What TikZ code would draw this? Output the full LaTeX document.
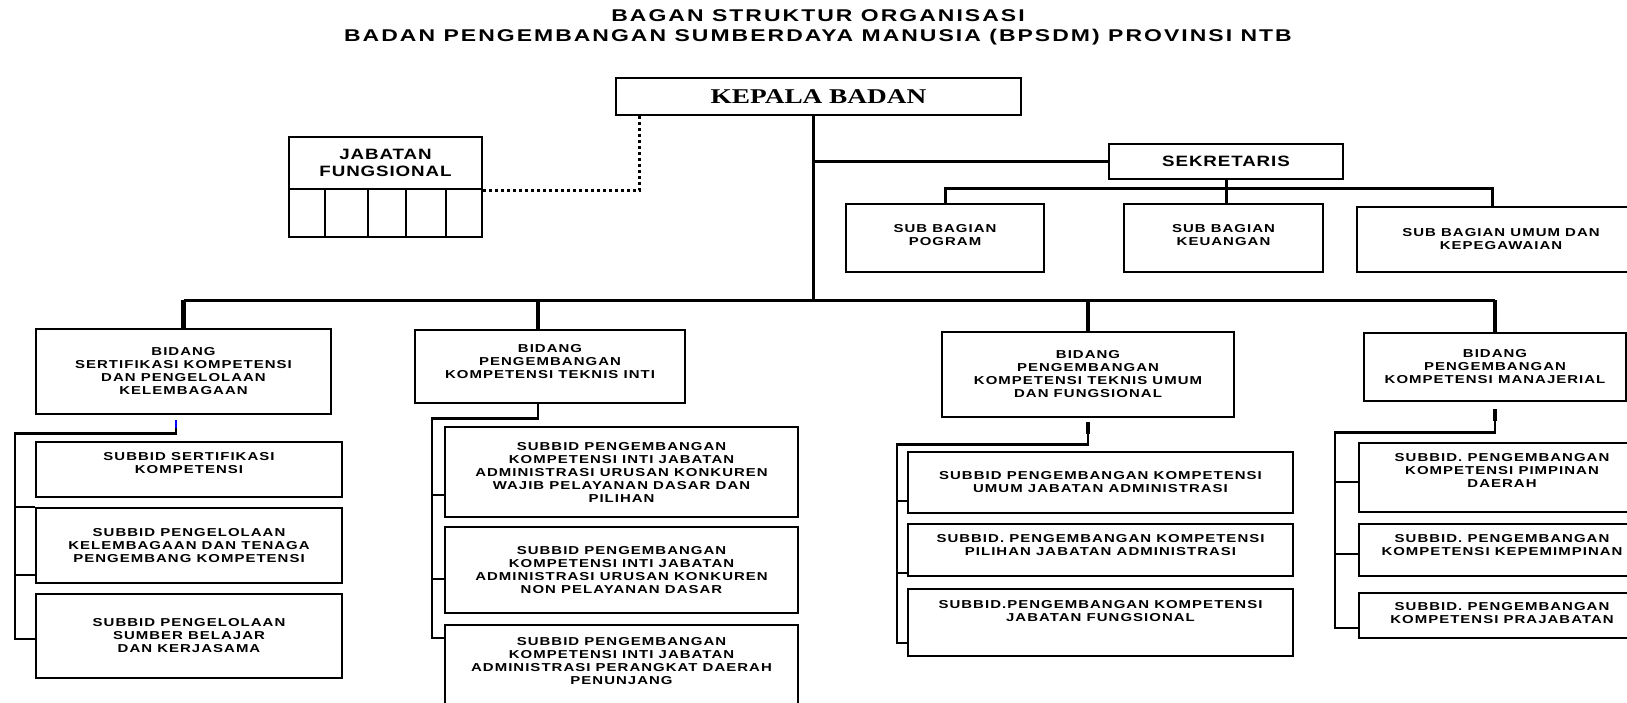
\documentclass[tikz,border=0pt]{standalone}
\usepackage{fontspec}
\newfontfamily\titlefont[FakeStretch=1.35,LetterSpace=12]{Liberation Sans}
\newfontfamily\boxfont[FakeStretch=1.3,LetterSpace=9]{Liberation Sans}
\newfontfamily\midfont[FakeStretch=1.25,LetterSpace=6]{Liberation Sans}
\newfontfamily\headfont[FakeStretch=1.3]{Liberation Serif}
\begin{document}
\begin{tikzpicture}[x=1pt,y=-1pt,
  box/.style={draw,line width=2.5pt,inner sep=0pt,align=center,
    font=\boxfont\bfseries\fontsize{11.5}{13}\selectfont},
  sz/.style 2 args={minimum width=#1pt,minimum height=#2pt},
  lift/.style={text depth=#1pt},
  heading/.style={font=\titlefont\bfseries\fontsize{17}{20}\selectfont},
  midtext/.style={font=\midfont\bfseries\fontsize{15}{17}\selectfont},
  trunk/.style={line width=3pt},
  drop/.style={line width=4.5pt},
  conn/.style={line width=2.5pt},
  dots/.style={line width=3pt,dash pattern=on 3pt off 3pt}]
\useasboundingbox (0,0) rectangle (1627,702);
\clip (0,0) rectangle (1627,702);
\node[heading,name=title1] at (818,16){BAGAN STRUKTUR ORGANISASI};
\node[heading,name=title2] at (818,37){BADAN PENGEMBANGAN SUMBERDAYA MANUSIA (BPSDM) PROVINSI NTB};
\node[box,sz={405}{37},font=\headfont\bfseries\fontsize{21}{24}\selectfont,name=kepala] at (818.5,96.5){KEPALA BADAN};
\node[box,sz={193}{52},midtext,name=jft] at (385.5,163){JABATAN\\FUNGSIONAL};
\node[box,sz={193}{48},name=jfc] at (385.5,213){};
\foreach \x in {325,368,406,446} \draw[conn] (\x,0 |- jfc.north) -- (\x,0 |- jfc.south);
\node[box,sz={234}{35},midtext,name=sekretaris] at (1226,161.5){SEKRETARIS};
\node[box,sz={198}{68},lift=6,name=pogram] at (945,238){SUB BAGIAN\\POGRAM};
\node[box,sz={199}{68},lift=6,name=keuangan] at (1223.5,238){SUB BAGIAN\\KEUANGAN};
\node[box,sz={288}{65},name=umum] at (1501,239.5){SUB BAGIAN UMUM DAN\\KEPEGAWAIAN};
\node[box,sz={295}{85},name=bid1] at (183.5,371.5){BIDANG\\SERTIFIKASI KOMPETENSI\\DAN PENGELOLAAN\\KELEMBAGAAN};
\node[box,sz={270}{73},lift=10,name=bid2] at (550,366.5){BIDANG\\PENGEMBANGAN\\KOMPETENSI TEKNIS INTI};
\node[box,sz={292}{85},name=bid3] at (1088,374.5){BIDANG\\PENGEMBANGAN\\KOMPETENSI TEKNIS UMUM\\DAN FUNGSIONAL};
\node[box,sz={262}{68},name=bid4] at (1495,367){BIDANG\\PENGEMBANGAN\\KOMPETENSI MANAJERIAL};
\node[box,sz={306}{55},lift=14,name=s1a] at (189,469.5){SUBBID SERTIFIKASI\\KOMPETENSI};
\node[box,sz={306}{75},name=s1b] at (189,545.5){SUBBID PENGELOLAAN\\KELEMBAGAAN DAN TENAGA\\PENGEMBANG KOMPETENSI};
\node[box,sz={306}{84},name=s1c] at (189,636){SUBBID PENGELOLAAN\\SUMBER BELAJAR\\DAN KERJASAMA};
\node[box,sz={353}{90},name=s2a] at (621.5,472){SUBBID PENGEMBANGAN\\KOMPETENSI INTI JABATAN\\ADMINISTRASI URUSAN KONKUREN\\WAJIB PELAYANAN DASAR DAN\\PILIHAN};
\node[box,sz={353}{86},name=s2b] at (621.5,570){SUBBID PENGEMBANGAN\\KOMPETENSI INTI JABATAN\\ADMINISTRASI URUSAN KONKUREN\\NON PELAYANAN DASAR};
\node[box,sz={353}{83},lift=11,name=s2c] at (621.5,666.5){SUBBID PENGEMBANGAN\\KOMPETENSI INTI JABATAN\\ADMINISTRASI PERANGKAT DAERAH\\PENUNJANG};
\node[box,sz={385}{61},name=s3a] at (1100.5,482.5){SUBBID PENGEMBANGAN KOMPETENSI\\UMUM JABATAN ADMINISTRASI};
\node[box,sz={385}{52},lift=10,name=s3b] at (1100.5,550){SUBBID. PENGEMBANGAN KOMPETENSI\\PILIHAN JABATAN ADMINISTRASI};
\node[box,sz={385}{67},lift=24,name=s3c] at (1100.5,622.5){SUBBID.PENGEMBANGAN KOMPETENSI\\JABATAN FUNGSIONAL};
\node[box,sz={286}{69},lift=14,name=s4a] at (1502,477.5){SUBBID. PENGEMBANGAN\\KOMPETENSI PIMPINAN\\DAERAH};
\node[box,sz={286}{52},lift=10,name=s4b] at (1502,550){SUBBID. PENGEMBANGAN\\KOMPETENSI KEPEMIMPINAN};
\node[box,sz={286}{45},lift=5,name=s4c] at (1502,615.5){SUBBID. PENGEMBANGAN\\KOMPETENSI PRAJABATAN};
\coordinate (top) at (813,300);
\coordinate (sb) at (1492,190);
\coordinate (k1) at (15,639);
\coordinate (k1b) at (15,575);
\coordinate (k2) at (432,638);
\coordinate (k2a) at (432,495);
\coordinate (k2b) at (432,579);
\coordinate (k3) at (897,643);
\coordinate (k3a) at (897,501);
\coordinate (k3b) at (897,573);
\coordinate (k4) at (1335,628);
\coordinate (k4a) at (1335,482);
\coordinate (k4b) at (1335,554);
\draw[dots] ([xshift=25pt]kepala.south west) |- (jft.south east);
\draw[trunk] (kepala.south -| top) -- (top);
\draw[trunk] (sekretaris.west -| top) -- (sekretaris.west);
\draw[trunk] (sekretaris.south) -- (sekretaris.south |- keuangan.north);
\draw[trunk] (pogram.north) -- ++(0,-14) -| (sb) -- (sb |- umum.north);
\draw[trunk] (bid1.north |- top) -- (bid4.north |- top);
\foreach \n in {bid1,bid3,bid4} \draw[drop] (\n.north) -- (\n.north |- top);
\draw[drop] ([xshift=-12pt]bid2.north) -- ([xshift=-12pt]bid2.north |- top);
\draw[blue,line width=2.5pt] ([xshift=-7.5pt,yshift=-5pt]bid1.south) -- ++(0,8);
\draw[conn] ([xshift=-7.5pt,yshift=-13pt]bid1.south) -- ++(0,5) -| (k1) -- (k1 -| s1c.west);
\draw[conn] (k1 |- s1b.north) -- (s1b.north west);
\draw[conn] ([xshift=-12pt]bid2.south) -- ++(0,14) -| (k2) -- (k2 -| s2c.west);
\draw[drop] (bid3.south) ++(0,4) -- ++(0,12);
\draw[conn] (bid3.south) ++(0,4) -- ++(0,22) -| (k3) -- (k3 -| s3c.west);
\draw[drop] (bid4.south) ++(0,7) -- ++(0,12);
\draw[conn] (bid4.south) ++(0,7) -- ++(0,23) -| (k4) -- (k4 -| s4c.west);
\foreach \k/\b in {k1b/s1b,k2a/s2a,k2b/s2b,k3a/s3a,k3b/s3b,k4a/s4a,k4b/s4b}
  \draw[conn] (\k) -- (\k -| \b.west);
\end{tikzpicture}
\end{document}
